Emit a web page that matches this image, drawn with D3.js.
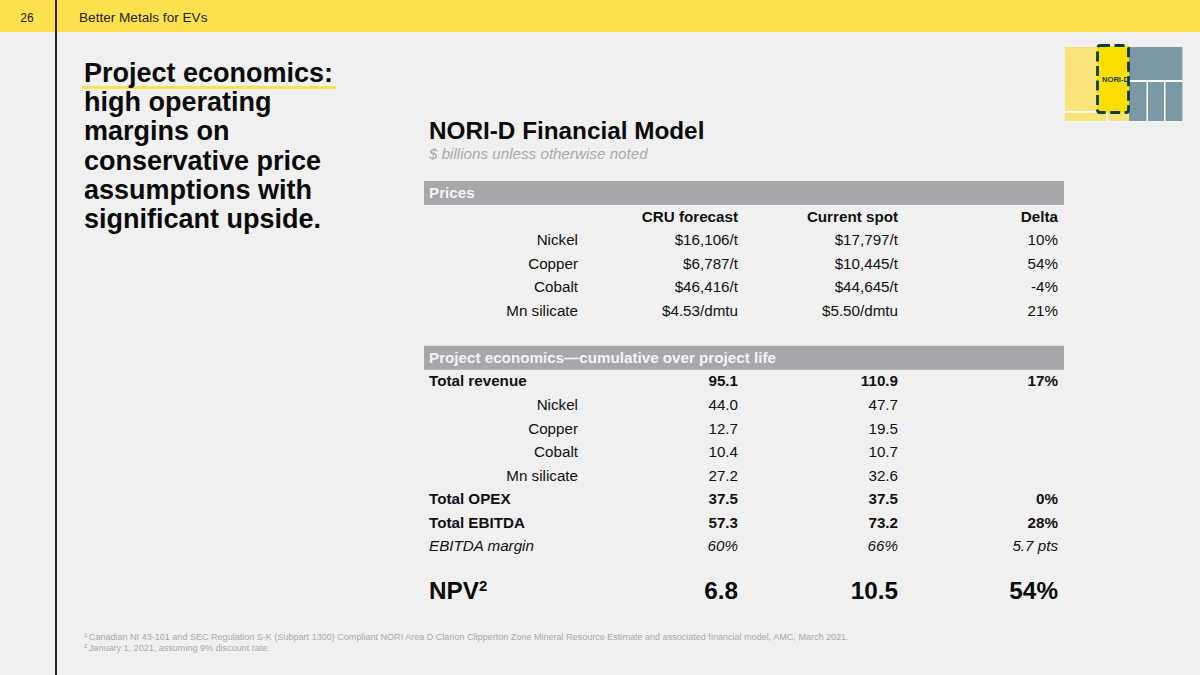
<!DOCTYPE html>
<html>
<head>
<meta charset="utf-8">
<script src="https://cdn.jsdelivr.net/npm/d3@7"></script>
<style>
html,body{margin:0;padding:0;background:#f0f0f0;}
svg{display:block;}
text{font-family:"Liberation Sans",Arial,sans-serif;}
</style>
</head>
<body>
<script>
var titleLines = ['Project economics:', 'high operating', 'margins on', 'conservative price', 'assumptions with', 'significant upside.'];
var columnHeads = ['CRU forecast', 'Current spot', 'Delta'];
var priceLabels = ['Nickel', 'Copper', 'Cobalt', 'Mn silicate'];
var priceCru = ['$16,106/t', '$6,787/t', '$46,416/t', '$4.53/dmtu'];
var priceSpot = ['$17,797/t', '$10,445/t', '$44,645/t', '$5.50/dmtu'];
var priceDelta = ['10%', '54%', '-4%', '21%'];
var econLabels = ['Total revenue', 'Nickel', 'Copper', 'Cobalt', 'Mn silicate', 'Total OPEX', 'Total EBITDA', 'EBITDA margin'];
var econCru = ['95.1', '44.0', '12.7', '10.4', '27.2', '37.5', '57.3', '60%'];
var econSpot = ['110.9', '47.7', '19.5', '10.7', '32.6', '37.5', '73.2', '66%'];
var econDelta = ['17%', '', '', '', '', '0%', '28%', '5.7 pts'];
var econStyle = ['total', 'sub', 'sub', 'sub', 'sub', 'total', 'total', 'margin'];
var npvValues = ['6.8', '10.5', '54%'];
var footnotes = [
	['1', 'Canadian NI 43-101 and SEC Regulation S-K (Subpart 1300) Compliant NORI Area D Clarion Clipperton Zone Mineral Resource Estimate and associated financial model, AMC, March 2021.'],
	['2', 'January 1, 2021, assuming 9% discount rate.']
];
// locator map blocks: [x0, y0, x1, y1] in map units
var mapYellow = [[0, 0, 64, 65], [0, 66.5, 41.5, 75], [43, 66.5, 64, 75]];
var mapBlue = [[64, 0, 117.5, 33.5], [64, 35.5, 81.5, 75], [83, 35.5, 99, 75], [100.5, 35.5, 117.5, 75]];

var svg = d3.select('body').append('svg').attr('width', 1200).attr('height', 675);
svg.append('rect').attr('width', 1200).attr('height', 675).attr('fill', '#f0f0f0');

// top band
svg.append('rect').attr('width', 1200).attr('height', 32).attr('fill', '#ffe150');
svg.append('line').attr('x1', 56).attr('x2', 56).attr('y1', 0).attr('y2', 675)
	.attr('stroke', '#222').attr('stroke-width', 2);
svg.append('text').attr('x', 27).attr('y', 21.5).attr('text-anchor', 'middle')
	.attr('font-size', 12).attr('fill', '#222').text('26');
svg.append('text').attr('x', 79).attr('y', 21.5)
	.attr('font-size', 13.6).attr('fill', '#222').text('Better Metals for EVs');

// left title, underline sits behind the first line
svg.append('line').attr('x1', 82).attr('x2', 336).attr('y1', 87.5).attr('y2', 87.5)
	.attr('stroke', '#ffe150').attr('stroke-width', 3);
var titleY = d3.scaleLinear().domain([0, 5]).range([82, 228]);
svg.selectAll('text.title').data(titleLines).enter().append('text')
	.attr('class', 'title')
	.attr('x', 84)
	.attr('y', function(d, i){ return titleY(i); })
	.attr('font-size', 27).attr('font-weight', 'bold').attr('fill', '#0a0a0a')
	.text(function(d){ return d; });

// table heading
svg.append('text').attr('x', 429).attr('y', 139).attr('font-size', 24.3).attr('font-weight', 'bold')
	.attr('fill', '#0a0a0a').text('NORI-D Financial Model');
svg.append('text').attr('x', 429).attr('y', 159).attr('font-size', 15.2).attr('font-style', 'italic')
	.attr('fill', '#a9a9ad').text('$ billions unless otherwise noted');

// table
var rowY = d3.scaleLinear().domain([0, 15]).range([193, 546]);
var colX = d3.scaleOrdinal().domain(columnHeads).range([738, 898, 1058]);
var labelRight = 578, labelLeft = 429;

function bandRow(i, label){
	svg.append('rect').attr('x', 424).attr('y', rowY(i) - 12).attr('width', 640).attr('height', 24)
		.attr('fill', '#a7a7ac');
	svg.append('text').attr('x', labelLeft).attr('y', rowY(i) + 5.3).attr('font-size', 15.2)
		.attr('font-weight', 'bold').attr('fill', '#f4f4f4').text(label);
}

function valueRow(i, label, vals, style){
	var bold = style == 'total' || style == 'head';
	var italic = style == 'margin';
	var g = svg.append('g').attr('font-size', 15.2).attr('fill', '#111')
		.attr('font-weight', bold ? 'bold' : 'normal')
		.attr('font-style', italic ? 'italic' : 'normal');
	if(label){
		g.append('text')
			.attr('x', style == 'sub' ? labelRight : labelLeft)
			.attr('y', rowY(i) + 5.2)
			.attr('text-anchor', style == 'sub' ? 'end' : 'start')
			.text(label);
	}
	columnHeads.forEach(function(c, k){
		g.append('text').attr('x', colX(c)).attr('y', rowY(i) + 5.2)
			.attr('text-anchor', 'end').text(vals[k]);
	});
}

bandRow(0, 'Prices');
valueRow(1, '', columnHeads, 'head');
priceLabels.forEach(function(d, i){
	valueRow(2 + i, d, [priceCru[i], priceSpot[i], priceDelta[i]], 'sub');
});
bandRow(7, 'Project economics\u2014cumulative over project life');
econLabels.forEach(function(d, i){
	valueRow(8 + i, d, [econCru[i], econSpot[i], econDelta[i]], econStyle[i]);
});

// NPV row
var npv = svg.append('g').attr('font-size', 24.3).attr('font-weight', 'bold').attr('fill', '#0a0a0a');
var npvLabel = npv.append('text').attr('x', labelLeft).attr('y', 599);
npvLabel.append('tspan').text('NPV');
npvLabel.append('tspan').attr('font-size', 15).attr('dy', -8.5).text('2');
columnHeads.forEach(function(c, k){
	npv.append('text').attr('x', colX(c)).attr('y', 599).attr('text-anchor', 'end').text(npvValues[k]);
});

// footnotes
var noteY = d3.scaleLinear().domain([0, 1]).range([640, 651]);
footnotes.forEach(function(n, i){
	var t = svg.append('text').attr('x', 84).attr('y', noteY(i)).attr('font-size', 9.05).attr('fill', '#a9a9ad');
	t.append('tspan').attr('font-size', 6).attr('dy', -3).text(n[0]);
	t.append('tspan').attr('dx', 1.5).attr('dy', 3).text(n[1]);
});

// locator map
var mapX = d3.scaleLinear().domain([0, 118]).range([1065, 1183]);
var mapUnitY = d3.scaleLinear().domain([0, 75]).range([47, 121]);
function mapBlocks(data, color){
	svg.selectAll(null).data(data).enter().append('rect')
		.attr('x', function(d){ return mapX(d[0]); })
		.attr('y', function(d){ return mapUnitY(d[1]); })
		.attr('width', function(d){ return mapX(d[2]) - mapX(d[0]); })
		.attr('height', function(d){ return mapUnitY(d[3]) - mapUnitY(d[1]); })
		.attr('fill', color);
}
svg.append('rect').attr('x', mapX(0)).attr('y', mapUnitY(0)).attr('width', 118).attr('height', 74.5).attr('fill', '#fff');
mapBlocks(mapYellow, '#f7e37a');
mapBlocks(mapBlue, '#7a99a5');
svg.append('rect').attr('x', 1097).attr('y', 46).attr('width', 32).attr('height', 67)
	.attr('fill', '#fbdf00');
svg.append('rect').attr('x', 1097.5).attr('y', 45.5).attr('width', 31).attr('height', 67).attr('rx', 2.5)
	.attr('fill', 'none').attr('stroke', '#0e3b45').attr('stroke-width', 2.8).attr('stroke-dasharray', '10 4.5');
svg.append('text').attr('x', 1102).attr('y', 81.5).attr('font-size', 7.6).attr('font-weight', 'bold')
	.attr('fill', '#14414a').text('NORI-D');
</script>
</body>
</html>
